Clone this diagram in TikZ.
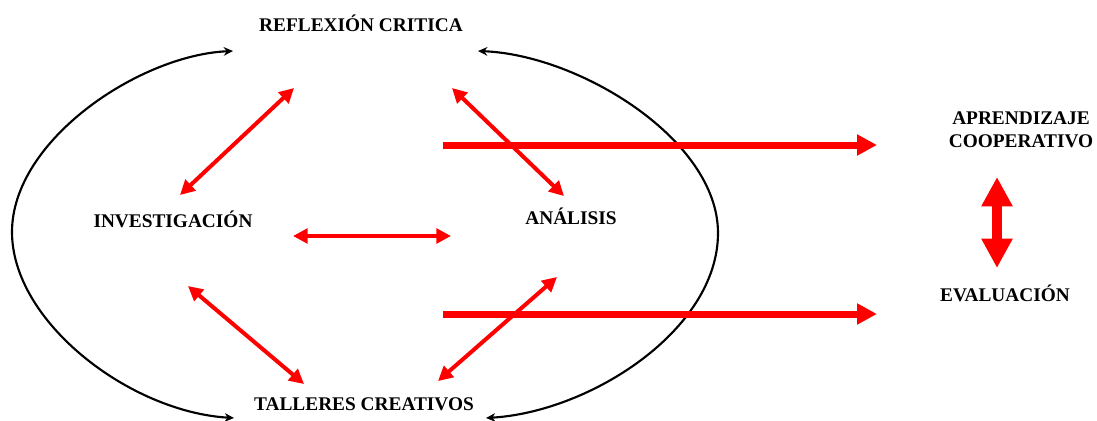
\documentclass[tikz,border=0pt]{standalone}
\usepackage{fontspec}
\setmainfont{Liberation Serif}
\usetikzlibrary{arrows.meta}
\begin{document}
\begin{tikzpicture}[x=0.75pt,y=-0.75pt,
  lbl/.style={font=\fontsize{14.5}{17.5}\selectfont\bfseries, align=center, inner sep=0pt},
  cyc/.style={line width=1.6pt, black, {Stealth[length=7pt,width=6.5pt]}-{Stealth[length=7pt,width=6.5pt]}},
  rarr/.style={line width=3pt, red, {Triangle[length=11pt,width=11pt]}-{Triangle[length=11pt,width=11pt]}},
  bigarr/.style={line width=5.25pt, red, -{Triangle[length=15pt,width=15pt]}},
  vertarr/.style={line width=7.5pt, red, {Triangle[length=22pt,width=22pt]}-{Triangle[length=22pt,width=22pt]}}
]
\useasboundingbox (0,0) rectangle (1097,421);
% labels
\node[lbl] (ref) at (361,23) {REFLEXIÓN CRITICA};
\node[lbl] (inv) at (173,219) {INVESTIGACIÓN};
\node[lbl] (ana) at (571,216) {ANÁLISIS};
\node[lbl] (tal) at (364,404) {TALLERES CREATIVOS};
\node[lbl] (apr) at (1021,130) {APRENDIZAJE\\COOPERATIVO};
\node[lbl] (eva) at (1005,293) {EVALUACIÓN};
% cycle ends
\coordinate (lt) at (233,51);
\coordinate (lb) at (234,418);
\coordinate (rt) at (478,51);
\coordinate (rb) at (486,418);
\draw[cyc] (lt) .. controls (140,55) and (12,140) .. (12,232) .. controls (12,322) and (130,412) .. (lb);
\draw[cyc] (rt) .. controls (580,55) and (718,140) .. (718,233) .. controls (718,330) and (590,412) .. (rb);
% red arrow ends
\coordinate (ri1) at (294,88);
\coordinate (ir1) at (180,195);
\coordinate (ra1) at (452,88);
\coordinate (ar1) at (564,196);
\coordinate (ia1) at (293,236);
\coordinate (ai1) at (451,236);
\coordinate (it1) at (188,286);
\coordinate (ti1) at (304,384);
\coordinate (at1) at (557,277);
\coordinate (ta1) at (438,381);
\draw[rarr] (ri1) -- (ir1);
\draw[rarr] (ra1) -- (ar1);
\draw[rarr] (ia1) -- (ai1);
\draw[rarr] (it1) -- (ti1);
\draw[rarr] (at1) -- (ta1);
% big arrows
\coordinate (h1s) at (443,145);
\coordinate (h1e) at (877,145);
\coordinate (h2s) at (443,314);
\coordinate (h2e) at (877,314);
\draw[bigarr] (h1s) -- (h1e);
\draw[bigarr] (h2s) -- (h2e);
\coordinate (vt) at (997,177);
\coordinate (vb) at (997,268);
\draw[vertarr] (vt) -- (vb);
\end{tikzpicture}
\end{document}
